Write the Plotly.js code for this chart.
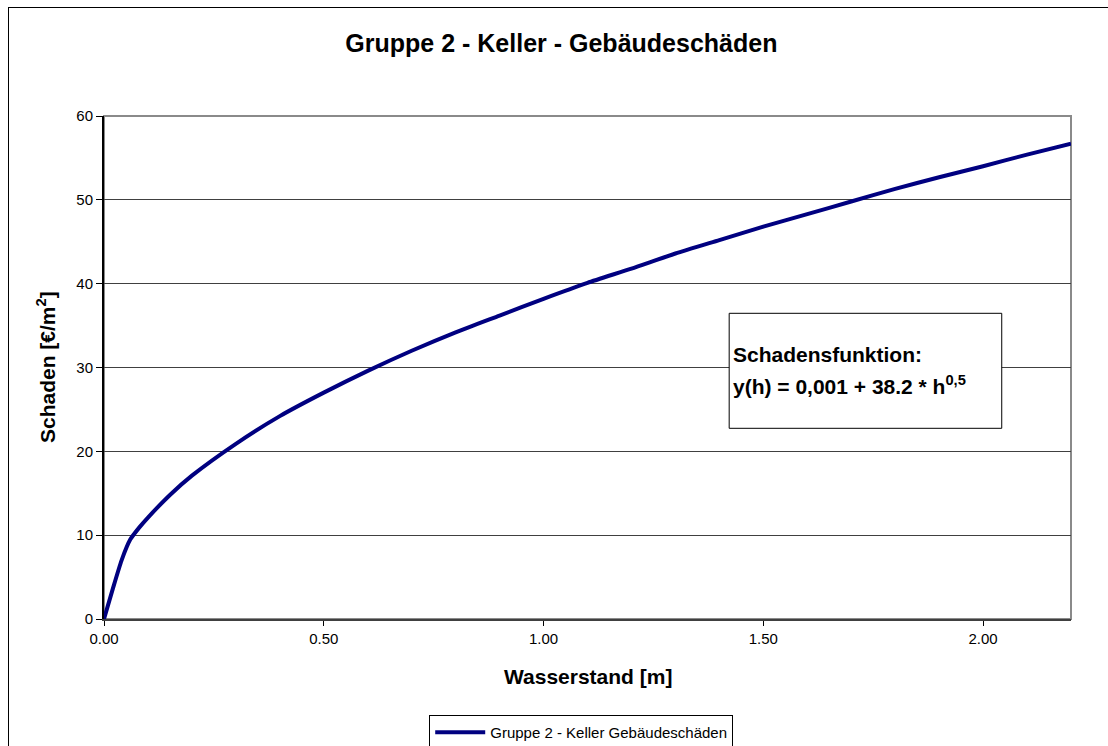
<!DOCTYPE html>
<html>
<head>
<meta charset="utf-8">
<script src="https://cdn.plot.ly/plotly-3.0.1.min.js"></script>
<style>
  html, body { margin: 0; padding: 0; background: #fff; overflow: hidden; }
  #wrap { position: relative; width: 1108px; height: 746px; }
  #chart { position: absolute; left: 0; top: 0; width: 1108px; height: 746px; }
  #frame { position: absolute; left: 8px; top: 7px; width: 1200px; height: 900px;
           border-left: 1px solid #000; border-top: 1px solid #000; pointer-events: none; }
</style>
</head>
<body>
<div id="wrap">
  <div id="chart"></div>
  <div id="frame"></div>
</div>
<script>
// Water level h [m] and damage [€/m²]
const wasserstand = [0, 0.02, 0.04, 0.06, 0.08, 0.1, 0.15, 0.2, 0.3, 0.4, 0.5, 0.6, 0.7, 0.8, 0.9, 1.0,
                     1.1, 1.2, 1.3, 1.4, 1.5, 1.6, 1.7, 1.8, 1.9, 2.0, 2.1, 2.2];
const schaden = [0, 3.6, 7.0, 9.5, 10.9, 12.1, 14.8, 17.1, 20.9, 24.2, 27.0, 29.6, 32.0, 34.2, 36.2, 38.2,
                 40.1, 41.8, 43.6, 45.2, 46.8, 48.3, 49.8, 51.3, 52.7, 54.0, 55.4, 56.7];
const seriesName = "Gruppe 2 - Keller Gebäudeschäden";
const chartTitle = "Gruppe 2 - Keller - Gebäudeschäden";
const xTitle = "Wasserstand [m]";
const yTitle = "Schaden [€/m<sup>2</sup>]";
const boxLine1 = "Schadensfunktion:";
const boxLine2 = "y(h) = 0,001 + 38.2 * h<sup>0,5</sup>";

const FONT = "Arial, 'Liberation Sans', sans-serif";

const trace = {
  x: wasserstand, y: schaden, type: "scatter", mode: "lines",
  name: seriesName, line: { color: "#000080", width: 4, shape: "spline", smoothing: 0.6 },
  showlegend: true
};

const layout = {
  width: 1108, height: 746,
  paper_bgcolor: "#ffffff", plot_bgcolor: "#ffffff",
  margin: { l: 103.5, r: 37, t: 116, b: 127, pad: 0, autoexpand: false },
  font: { family: FONT, color: "#000" },
  title: {
    text: "<b>" + chartTitle + "</b>", font: { family: FONT, size: 25, color: "#000" },
    x: 0.473, xref: "paper", xanchor: "center", y: 1 - 43 / 746, yref: "container", yanchor: "middle"
  },
  xaxis: {
    range: [0, 2.2], dtick: 0.5, tick0: 0, tickformat: ".2f",
    showgrid: false, zeroline: false,
    showline: true, linecolor: "#404040", linewidth: 2,
    ticks: "outside", ticklen: 5, tickcolor: "#000", tickwidth: 1,
    tickfont: { family: FONT, size: 15, color: "#000" }
  },
  yaxis: {
    range: [0, 60], dtick: 10, tick0: 0,
    showgrid: true, gridcolor: "#404040", gridwidth: 1, zeroline: false,
    showline: true, linecolor: "#000", linewidth: 2,
    ticks: "outside", ticklen: 6, tickcolor: "#000", tickwidth: 1,
    tickfont: { family: FONT, size: 15, color: "#000" }
  },
  showlegend: true,
  legend: {
    x: 0.4935, xanchor: "center", y: (619 - 715) / 503, yanchor: "top",
    orientation: "h", bgcolor: "#fff", bordercolor: "#000", borderwidth: 1,
    itemwidth: 50,
    font: { family: FONT, size: 15, color: "#000" }
  },
  shapes: [
    { type: "rect", xref: "paper", yref: "paper", x0: 0, x1: 1, y0: 0, y1: 1,
      line: { color: "#8a8a8a", width: 2 }, layer: "below" },
    { type: "rect", xref: "paper", yref: "paper",
      x0: (729 - 103.5) / 967.5, x1: (1001.7 - 103.5) / 967.5,
      y0: (619 - 428.3) / 503, y1: (619 - 313.3) / 503,
      line: { color: "#000", width: 1 }, fillcolor: "#fff", layer: "above" }
  ],
  annotations: [
    { text: "<b>" + xTitle + "</b>", xref: "paper", yref: "paper", x: 0.5, y: (619 - 676) / 503,
      xanchor: "center", yanchor: "middle", showarrow: false, font: { family: FONT, size: 21, color: "#000" } },
    { text: "<b>" + yTitle + "</b>", xref: "paper", yref: "paper", x: (45 - 103.5) / 967.5, y: 0.5,
      xanchor: "center", yanchor: "middle", textangle: -90, showarrow: false,
      font: { family: FONT, size: 21, color: "#000" } },
    { text: "<b>" + boxLine1 + "</b>", xref: "paper", yref: "paper",
      x: (731 - 103.5) / 967.5, y: (619 - 354) / 503, xanchor: "left", yanchor: "middle",
      showarrow: false, font: { family: FONT, size: 21, color: "#000" } },
    { text: "<b>" + boxLine2 + "</b>", xref: "paper", yref: "paper",
      x: (731 - 103.5) / 967.5, y: (619 - 385) / 503, xanchor: "left", yanchor: "middle",
      showarrow: false, font: { family: FONT, size: 21, color: "#000" } }
  ]
};

Plotly.newPlot("chart", [trace], layout, { displayModeBar: false, staticPlot: true });
</script>
</body>
</html>
